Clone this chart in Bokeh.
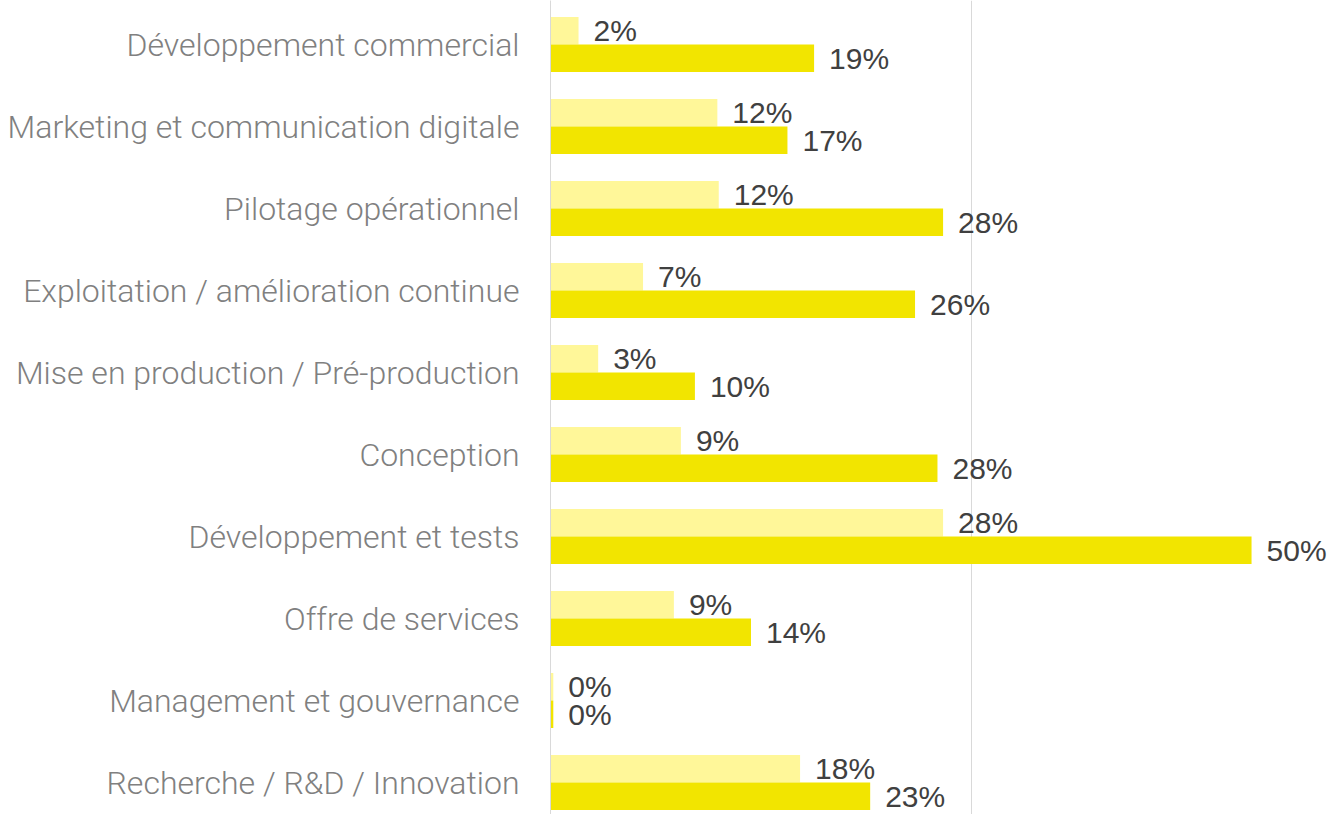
from bokeh.plotting import figure
from bokeh.models import ColumnDataSource, Range1d, FixedTicker
from bokeh.embed import file_html
from bokeh.resources import INLINE
from bokeh.core.properties import value

categories = [
    "Développement commercial",
    "Marketing et communication digitale",
    "Pilotage opérationnel",
    "Exploitation / amélioration continue",
    "Mise en production / Pré-production",
    "Conception",
    "Développement et tests",
    "Offre de services",
    "Management et gouvernance",
    "Recherche / R&D / Innovation",
]
light_values = [2.0, 11.9, 12.0, 6.6, 3.4, 9.3, 28.0, 8.8, 0.2, 17.8]
light_labels = ["2%", "12%", "12%", "7%", "3%", "9%", "28%", "9%", "0%", "18%"]
dark_values = [18.8, 16.9, 28.0, 26.0, 10.3, 27.6, 50.0, 14.3, 0.2, 22.8]
dark_labels = ["19%", "17%", "28%", "26%", "10%", "28%", "50%", "14%", "0%", "23%"]

LIGHT = "#FFF799"
DARK = "#F2E500"
BAR_H = 0.335

idx = list(range(len(categories)))
light_src = ColumnDataSource(dict(
    y=[i - BAR_H / 2 for i in idx], v=light_values, lab=light_labels))
dark_src = ColumnDataSource(dict(
    y=[i + BAR_H / 2 for i in idx], v=dark_values, lab=dark_labels))

p = figure(width=1329, height=814, output_backend="svg", toolbar_location=None,
           x_range=Range1d(0, 55.56), y_range=Range1d(9.39, -0.537),
           min_border_left=550, min_border_right=0, min_border_top=0,
           min_border_bottom=0)
p.outline_line_color = None
p.background_fill_color = "white"
p.border_fill_color = "white"

p.hbar(y="y", left=0, right="v", height=BAR_H, source=light_src,
       fill_color=LIGHT, line_color=None)
p.hbar(y="y", left=0, right="v", height=BAR_H, source=dark_src,
       fill_color=DARK, line_color=None)

for src in (light_src, dark_src):
    p.text(x="v", y="y", text="lab", source=src, x_offset=15, y_offset=0,
           text_baseline="middle", text_align="left",
           text_font=value("Liberation Sans"), text_font_size="30px",
           text_color="#404040")

p.xaxis.visible = False
p.xaxis.ticker = FixedTicker(ticks=[0, 30])
p.xgrid.grid_line_color = "#D9D9D9"
p.xgrid.grid_line_width = 1
p.ygrid.grid_line_color = None

yax = p.yaxis[0]
yax.ticker = FixedTicker(ticks=idx)
yax.major_label_overrides = {i: c for i, c in enumerate(categories)}
yax.major_tick_line_color = None
yax.minor_tick_line_color = None
yax.axis_line_color = "#D9D9D9"
yax.major_label_standoff = 25
yax.major_label_text_font = "Roboto Light"
yax.major_label_text_font_size = "32px"
yax.major_label_text_color = "#808080"

open("out.html", "w").write(file_html(p, INLINE))
